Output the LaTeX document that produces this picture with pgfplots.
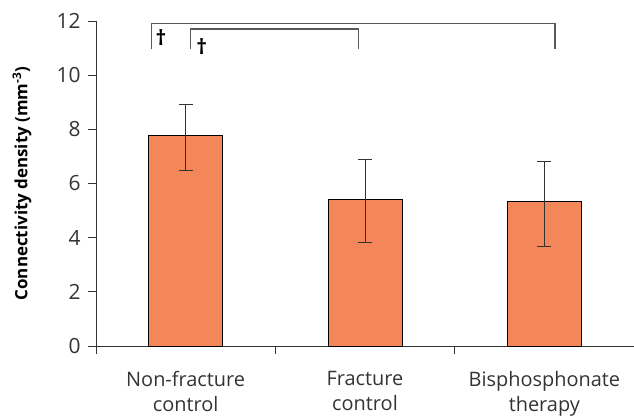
\documentclass[border=0pt]{standalone}
\usepackage{pgfplots}
\pgfplotsset{compat=1.18}
\usepackage{fontspec}
\setmainfont{Open Sans}
\definecolor{barfill}{HTML}{F3875A}
\definecolor{axgray}{HTML}{333333}
\begin{document}
\begin{tikzpicture}[x=1bp,y=1bp]
\useasboundingbox (0,0) rectangle (634,419);
\begin{axis}[
  at={(96bp,73bp)}, anchor=origin,
  scale only axis, width=538bp, height=325bp,
  xmin=0.5, xmax=3.5, ymin=0, ymax=12,
  axis x line=bottom, axis y line=left,
  axis line style={axgray, line width=0.9pt, -},
  ytick={0,2,...,12},
  xtick={1,2,3},
  xticklabels={Non-fracture\\control, Fracture\\control, Bisphosphonate\\therapy},
  xticklabel style={align=center, font=\fontsize{20}{25}\selectfont, text=axgray},
  yticklabel style={font=\fontsize{21}{22}\selectfont, text=axgray},
  /pgf/number format/assume math mode=true,
  major x tick style={draw=none},
  minor xtick={0.5,1.5,2.5},
  minor x tick style={axgray, line width=0.9pt},
  major y tick style={axgray, line width=0.9pt},
  tick align=outside,
  major tick length=8bp, minor tick length=8bp,
  xticklabel shift=14bp,
  yticklabel shift=4bp,
  ylabel={\textbf{Connectivity density (mm\textsuperscript{-3})}},
  every axis y label/.style={at={(axis description cs:0,0.5)}, rotate=90, anchor=center, yshift=74bp, font=\fontsize{17}{18}\selectfont, text=black},
  clip=false,
]
\addplot[ybar, bar width=74bp, fill=barfill, draw=black, line width=0.8pt,
  error bars/.cd, y dir=both, y explicit,
  error bar style={axgray, line width=1pt},
  error mark options={rotate=90, mark size=7bp, axgray, line width=1pt}]
  table[x=x, y=y, y error plus=ep, y error minus=em] {
x y ep em
1 7.77 1.13 1.29
2 5.41 1.48 1.58
3 5.33 1.49 1.64
};
\addplot[no marks, color=black!65, line width=1.3pt] coordinates {(0.81,10.95) (0.81,11.92) (3.06,11.92) (3.06,10.95)};
\addplot[no marks, color=black!65, line width=1.3pt] coordinates {(1.027,10.95) (1.027,11.70) (1.964,11.70) (1.964,10.95)};
\node[font=\fontsize{21}{22}\selectfont\bfseries] at (axis cs:0.862,11.38) {†};
\node[font=\fontsize{21}{22}\selectfont\bfseries] at (axis cs:1.09,11.06) {†};
\end{axis}
\end{tikzpicture}
\end{document}
